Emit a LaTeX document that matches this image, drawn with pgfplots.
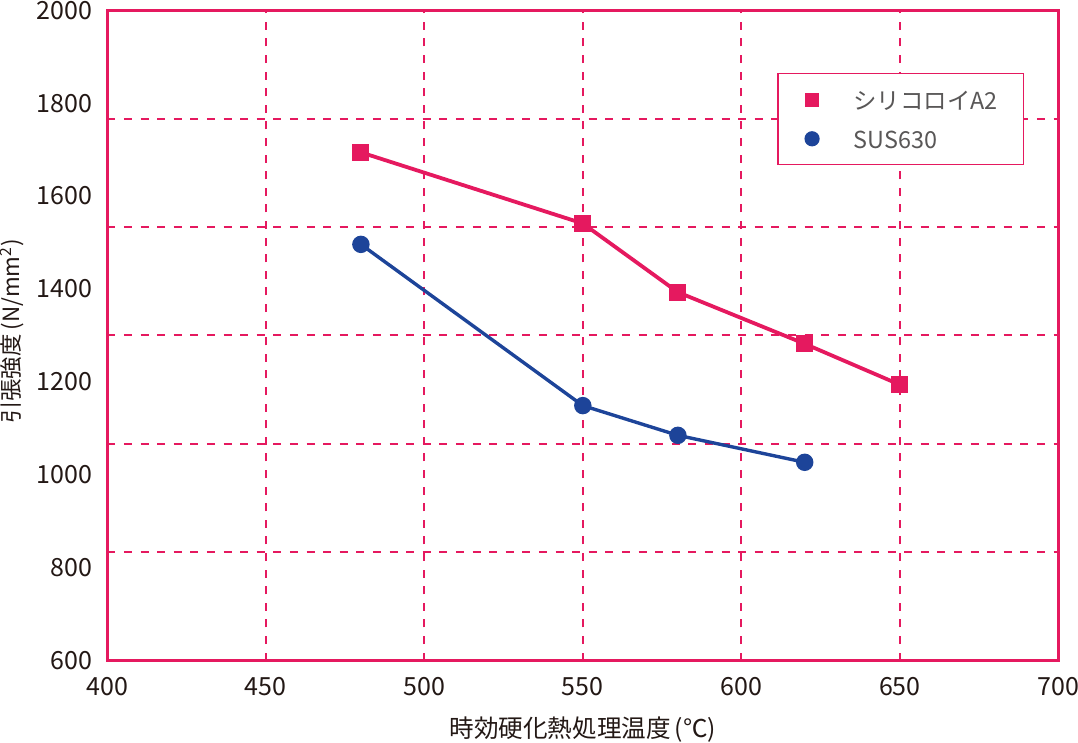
\documentclass[border=0pt]{standalone}
\usepackage{fontspec}
\setmainfont{Noto Sans CJK JP}
\usepackage{pgfplots}
\pgfplotsset{compat=1.18}
\definecolor{pinkc}{HTML}{E5195F}
\definecolor{bluec}{HTML}{1D4499}
\definecolor{tickc}{HTML}{231815}
\definecolor{legc}{HTML}{595757}
\begin{document}
\begin{tikzpicture}
\begin{axis}[
  name=ax,
  at={(0,0)}, anchor=south west,
  scale only axis,
  width=475.5pt, height=325.25pt,
  xmin=400, xmax=700, ymin=600, ymax=2000,
  xtick={400,450,...,700},
  ytick={600,800,...,2000},
  extra y ticks={833.333,1066.667,1300,1533.333,1766.667},
  extra y tick labels={},
  extra y tick style={ymajorgrids=true},
  xmajorgrids=true,
  major grid style={draw=pinkc, line width=1pt, dash pattern=on 4pt off 4.3pt},
  major tick length=0pt,
  axis line style={draw=pinkc, line width=1.5pt},
  /pgf/number format/1000 sep={},
  /pgf/number format/assume math mode=true,
  scaled ticks=false,
  tick label style={font=\fontsize{12.5}{14}\selectfont, text=tickc, inner sep=0pt},
  xticklabel style={anchor=north, yshift=-8pt},
  yticklabel style={anchor=east, xshift=-7.5pt},
  xlabel={時効硬化熱処理温度\,(℃)},
  ylabel={引張強度\,(N/mm\textsuperscript{2})},
  xlabel style={at={(axis description cs:0.5,0)}, anchor=north, yshift=-28pt, inner sep=0pt, font=\fontsize{12.3}{14}\selectfont, text=tickc},
  ylabel style={at={(axis description cs:-0.0999,0.506)}, anchor=center, rotate=0, inner sep=0pt, font=\fontsize{11.2}{13}\selectfont, text=tickc},
  legend image code/.code={\path[draw=none,fill=none] (-8pt,0pt) (8pt,0pt); \draw[#1,only marks] plot coordinates {(0pt,0pt)};},
  legend style={at={(0.7047,0.903)}, anchor=north west, draw=pinkc, line width=0.6pt, fill=white,
    inner xsep=9pt, inner ysep=3.2pt, column sep=12.75pt, row sep=0pt,
    font=\fontsize{11.7}{14}\selectfont,
    nodes={inner sep=0pt, text height=14.5pt, text depth=5pt, text width=75.85pt, align=left, text=legc}},
  legend cell align=left,
]
\addplot[forget plot, pinkc, line width=1.9pt, mark=square*, mark size=3.3pt, mark options={solid}]
  coordinates {(480,1694) (550,1541) (580,1393) (620,1282) (650,1194)};
\addplot[forget plot, bluec, line width=1.7pt, mark=*, mark size=3.5pt, mark options={solid}]
  coordinates {(480,1496) (550,1149) (580,1085) (620,1027)};
\addlegendimage{only marks, pinkc, mark=square*, mark size=3.3pt}
\addlegendentry{シリコロイA2}
\addlegendimage{only marks, bluec, mark=*, mark size=3.5pt}
\addlegendentry{SUS630}
\end{axis}
\pgfresetboundingbox
\path[use as bounding box] ([xshift=-53.65pt,yshift=-40.65pt]ax.south west) rectangle ([xshift=9.85pt,yshift=5.1pt]ax.north east);
\end{tikzpicture}
\end{document}
